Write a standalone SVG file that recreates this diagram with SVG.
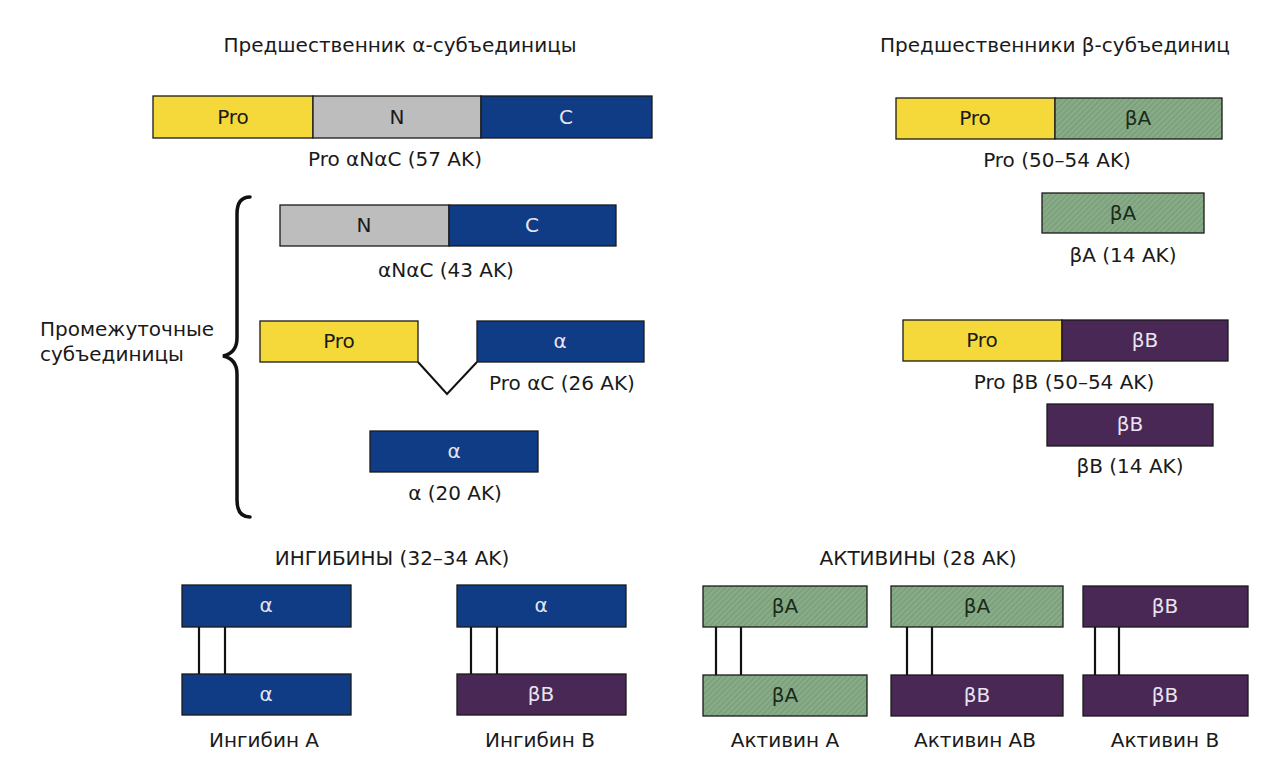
<svg xmlns="http://www.w3.org/2000/svg" width="1277" height="770" viewBox="0 0 1277 770">
<defs>
<pattern id="hatch" width="4" height="4" patternUnits="userSpaceOnUse" patternTransform="rotate(45)">
<rect width="4" height="4" fill="#86ab86"/>
<line x1="0" y1="0" x2="0" y2="4" stroke="#6f946f" stroke-width="1.5"/>
</pattern>
<style>
text{font-family:"DejaVu Sans","Liberation Sans",sans-serif;font-size:20px;fill:#1a1a1a;text-anchor:middle}
.w{fill:#e8e4f0}
.g{fill:#1a2a1a}
.s{stroke:#1a1a1a;stroke-width:1.3}
.pro{fill:#f5d93a}
.n{fill:#bdbdbd}
.c{fill:#0f3c85}
.a{fill:url(#hatch)}
.b{fill:#4a2856}
.ln{stroke:#111;stroke-width:3.5;fill:none;stroke-linecap:round}
</style>
</defs>
<rect width="1277" height="770" fill="#ffffff"/>
<text x="400" y="52">Предшественник α-субъединицы</text>
<text x="1055" y="52">Предшественники β-субъединиц</text>

<g id="pro-anac">
<rect x="153" y="96" width="160" height="42" class="pro s"/>
<rect x="313" y="96" width="168" height="42" class="n s"/>
<rect x="481" y="96" width="171" height="42" class="c s"/>
<text x="233" y="124">Pro</text>
<text x="397" y="124">N</text>
<text x="566" y="124" class="w">C</text>
<text x="395" y="166">Pro αNαC (57 AK)</text>
</g>

<g id="pro-ba">
<rect x="896" y="98" width="159" height="41" class="pro s"/>
<rect x="1055" y="98" width="167" height="41" class="a s"/>
<text x="975" y="125">Pro</text>
<text x="1138" y="125" class="g">βA</text>
<text x="1057" y="167">Pro (50–54 AK)</text>
</g>

<g id="ba">
<rect x="1042" y="193" width="162" height="40" class="a s"/>
<text x="1123" y="220" class="g">βA</text>
<text x="1123" y="262">βA (14 AK)</text>
</g>

<g id="anac">
<rect x="280" y="205" width="169" height="41" class="n s"/>
<rect x="449" y="205" width="167" height="41" class="c s"/>
<text x="364" y="232">N</text>
<text x="532" y="232" class="w">C</text>
<text x="446" y="277">αNαC (43 AK)</text>
</g>

<g id="brace">
<path d="M250,197 Q237,197 237,214 L237,338 Q237,353 223,356 Q237,359 237,374 L237,500 Q237,517 250,517" class="ln"/>
<text x="40" y="336" style="text-anchor:start">Промежуточные</text>
<text x="40" y="361" style="text-anchor:start">субъединицы</text>
</g>

<g id="pro-ac">
<rect x="260" y="321" width="158" height="41" class="pro s"/>
<rect x="477" y="321" width="167" height="41" class="c s"/>
<polyline points="418,362 447,394 477,362" stroke="#111" stroke-width="2" fill="none"/>
<text x="339" y="348">Pro</text>
<text x="560" y="348" class="w">α</text>
<text x="562" y="390">Pro αC (26 AK)</text>
</g>

<g id="pro-bb">
<rect x="903" y="320" width="159" height="41" class="pro s"/>
<rect x="1062" y="320" width="166" height="41" class="b s"/>
<text x="982" y="347">Pro</text>
<text x="1145" y="347" class="w">βB</text>
<text x="1064" y="389">Pro βB (50–54 AK)</text>
</g>

<g id="bb">
<rect x="1047" y="404" width="166" height="42" class="b s"/>
<text x="1130" y="431" class="w">βB</text>
<text x="1130" y="473">βB (14 AK)</text>
</g>

<g id="alpha">
<rect x="370" y="431" width="168" height="41" class="c s"/>
<text x="454" y="458" class="w">α</text>
<text x="455" y="500">α (20 AK)</text>
</g>

<text x="392" y="565">ИНГИБИНЫ (32–34 AK)</text>
<text x="918" y="565">АКТИВИНЫ (28 AK)</text>

<g id="connectors" stroke="#111" stroke-width="2.2">
<line x1="199" y1="627" x2="199" y2="674"/><line x1="225" y1="627" x2="225" y2="674"/>
<line x1="471" y1="627" x2="471" y2="674"/><line x1="497" y1="627" x2="497" y2="674"/>
<line x1="716" y1="627" x2="716" y2="675"/><line x1="741" y1="627" x2="741" y2="675"/>
<line x1="907" y1="627" x2="907" y2="675"/><line x1="932" y1="627" x2="932" y2="675"/>
<line x1="1095" y1="627" x2="1095" y2="675"/><line x1="1119" y1="627" x2="1119" y2="675"/>
</g>

<g id="inhibin-a">
<rect x="182" y="585" width="169" height="42" class="c s"/>
<rect x="182" y="674" width="169" height="41" class="c s"/>
<text x="266" y="612" class="w">α</text>
<text x="266" y="701" class="w">α</text>
<text x="264" y="747">Ингибин А</text>
</g>

<g id="inhibin-b">
<rect x="457" y="585" width="169" height="42" class="c s"/>
<rect x="457" y="674" width="169" height="41" class="b s"/>
<text x="541" y="612" class="w">α</text>
<text x="541" y="701" class="w">βB</text>
<text x="540" y="747">Ингибин В</text>
</g>

<g id="activin-a">
<rect x="703" y="586" width="164" height="41" class="a s"/>
<rect x="703" y="675" width="164" height="41" class="a s"/>
<text x="785" y="613" class="g">βA</text>
<text x="785" y="702" class="g">βA</text>
<text x="785" y="747">Активин А</text>
</g>

<g id="activin-ab">
<rect x="891" y="586" width="172" height="41" class="a s"/>
<rect x="891" y="675" width="172" height="41" class="b s"/>
<text x="977" y="613" class="g">βA</text>
<text x="977" y="702" class="w">βB</text>
<text x="975" y="747">Активин АВ</text>
</g>

<g id="activin-b">
<rect x="1083" y="586" width="165" height="41" class="b s"/>
<rect x="1083" y="675" width="165" height="41" class="b s"/>
<text x="1165" y="613" class="w">βB</text>
<text x="1165" y="702" class="w">βB</text>
<text x="1165" y="747">Активин В</text>
</g>
</svg>
